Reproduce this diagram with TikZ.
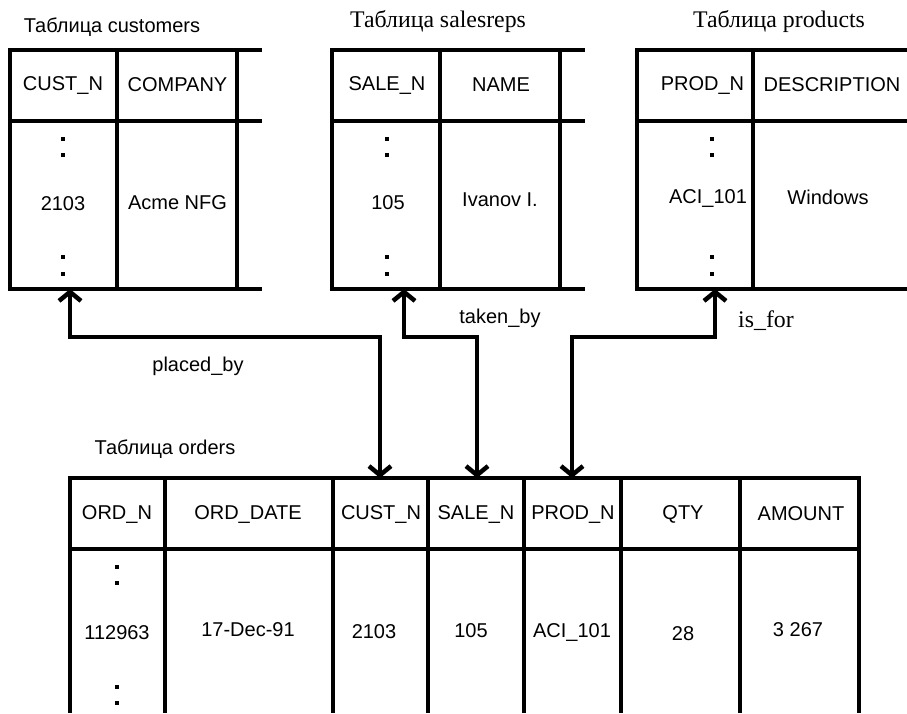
\documentclass[tikz,border=0pt]{standalone}
\usepackage{fontspec}
\setmainfont{Liberation Serif}
\newfontfamily\arialf{Liberation Sans}
\usetikzlibrary{arrows.meta}
\tikzset{
  sanstxt/.style={inner sep=0pt, font=\arialf\fontsize{20}{23}\selectfont},
  seriftxt/.style={inner sep=0pt, font=\fontsize{23.8}{27}\selectfont},
  outerline/.style={line width=3.2pt},
  innerline/.style={line width=4.2pt},
  dotmark/.style={fill=black, inner sep=0pt, minimum size=4.2pt, draw=none},
  link/.style={line width=4.5pt, line join=miter,
    {Straight Barb[length=9pt,width=22pt]}-{Straight Barb[length=9pt,width=22pt]}}
}
\begin{document}
\begin{tikzpicture}[x=1pt,y=-1pt]
\useasboundingbox (0,0) rectangle (907,713);
% ---- customers ----
\node[sanstxt] (tcust) at (112,27) {Таблица customers};
\draw[outerline] (10,50) -- (262,50);
\draw[innerline] (10,121) -- (262,121);
\draw[outerline] (10,289) -- (262,289);
\draw[outerline] (10,48.4) -- (10,290.6);
\draw[innerline] (117,50) -- (117,289);
\draw[innerline] (237,50) -- (237,289);
\node[sanstxt] (hcustn) at (63,85) {CUST\_N};
\node[sanstxt] (hcomp) at (177.5,85) {COMPANY};
\node[dotmark] (cd1) at (63,139) {};
\node[dotmark] (cd2) at (63,155) {};
\node[sanstxt] (vcust) at (63,204) {2103};
\node[sanstxt] (vacme) at (177.5,202.5) {Acme NFG};
\node[dotmark] (cd3) at (63,257) {};
\node[dotmark] (cd4) at (63,274) {};
% ---- salesreps ----
\node[seriftxt] (tsales) at (438,22) {Таблица salesreps};
\draw[outerline] (332,50) -- (585,50);
\draw[innerline] (332,121) -- (585,121);
\draw[outerline] (332,289) -- (585,289);
\draw[outerline] (332,48.4) -- (332,290.6);
\draw[innerline] (440,50) -- (440,289);
\draw[innerline] (560,50) -- (560,289);
\node[sanstxt] (hsalen) at (387,85) {SALE\_N};
\node[sanstxt] (hname) at (501,85) {NAME};
\node[dotmark] (sd1) at (387,139) {};
\node[dotmark] (sd2) at (387,155) {};
\node[sanstxt] (vsale) at (388,203) {105};
\node[sanstxt] (vivan) at (500,200) {Ivanov I.};
\node[dotmark] (sd3) at (387,257) {};
\node[dotmark] (sd4) at (387,274) {};
% ---- products ----
\node[seriftxt] (tprod) at (779,22) {Таблица products};
\draw[outerline] (637,50) -- (907,50);
\draw[innerline] (636,121) -- (907,121);
\draw[outerline] (637,289) -- (907,289);
\draw[outerline] (637,48.4) -- (637,290.6);
\draw[innerline] (753,50) -- (753,289);
\node[sanstxt] (hprodn) at (702.5,85) {PROD\_N};
\node[sanstxt] (hdesc) at (832,85) {DESCRIPTION};
\node[dotmark] (pd1) at (712,139) {};
\node[dotmark] (pd2) at (712,155) {};
\node[sanstxt] (vaci) at (708,198) {ACI\_101};
\node[sanstxt] (vwin) at (828,197) {Windows};
\node[dotmark] (pd3) at (712,257) {};
\node[dotmark] (pd4) at (712,274) {};
% ---- orders ----
\node[sanstxt] (tord) at (165,449) {Таблица orders};
\draw[innerline] (70,478) -- (859,478);
\draw[innerline] (70,549) -- (859,549);
\foreach \xx in {70,165,333,428,524,621,740,859}
  \draw[innerline] (\xx,476) -- (\xx,713);
\node[sanstxt] (hordn) at (117,514) {ORD\_N};
\node[sanstxt] (hdate) at (248,514) {ORD\_DATE};
\node[sanstxt] (hocust) at (381,514) {CUST\_N};
\node[sanstxt] (hosale) at (476,514) {SALE\_N};
\node[sanstxt] (hoprod) at (573,514) {PROD\_N};
\node[sanstxt] (hqty) at (683,514) {QTY};
\node[sanstxt] (hamt) at (801,514) {AMOUNT};
\node[dotmark] (od1) at (117,567) {};
\node[dotmark] (od2) at (117,583) {};
\node[sanstxt] (vord) at (117,633) {112963};
\node[sanstxt] (vdate) at (248,630) {17-Dec-91};
\node[sanstxt] (vocust) at (374,632) {2103};
\node[sanstxt] (vosale) at (471,631) {105};
\node[sanstxt] (voprod) at (572,632) {ACI\_101};
\node[sanstxt] (vqty) at (683,634) {28};
\node[sanstxt] (vamt) at (798,630) {3 267};
\node[dotmark] (od3) at (117,687) {};
\node[dotmark] (od4) at (117,703) {};
% ---- connector end points ----
\coordinate (custkey) at (70,289);
\coordinate (ordcust) at (380,478);
\coordinate (salekey) at (404,289);
\coordinate (ordsale) at (477,478);
\coordinate (prodkey) at (715,289);
\coordinate (ordprod) at (572,478);
\draw[link] (custkey) -- (custkey |- 0,337) -- (ordcust |- 0,337) -- (ordcust);
\draw[link] (salekey) -- (salekey |- 0,337) -- (ordsale |- 0,337) -- (ordsale);
\draw[link] (prodkey) -- (prodkey |- 0,337) -- (ordprod |- 0,337) -- (ordprod);
\node[sanstxt] (lplaced) at (198,366) {placed\_by};
\node[sanstxt] (ltaken) at (500,318) {taken\_by};
\node[seriftxt] (lisfor) at (766,321) {is\_for};
\end{tikzpicture}
\end{document}
